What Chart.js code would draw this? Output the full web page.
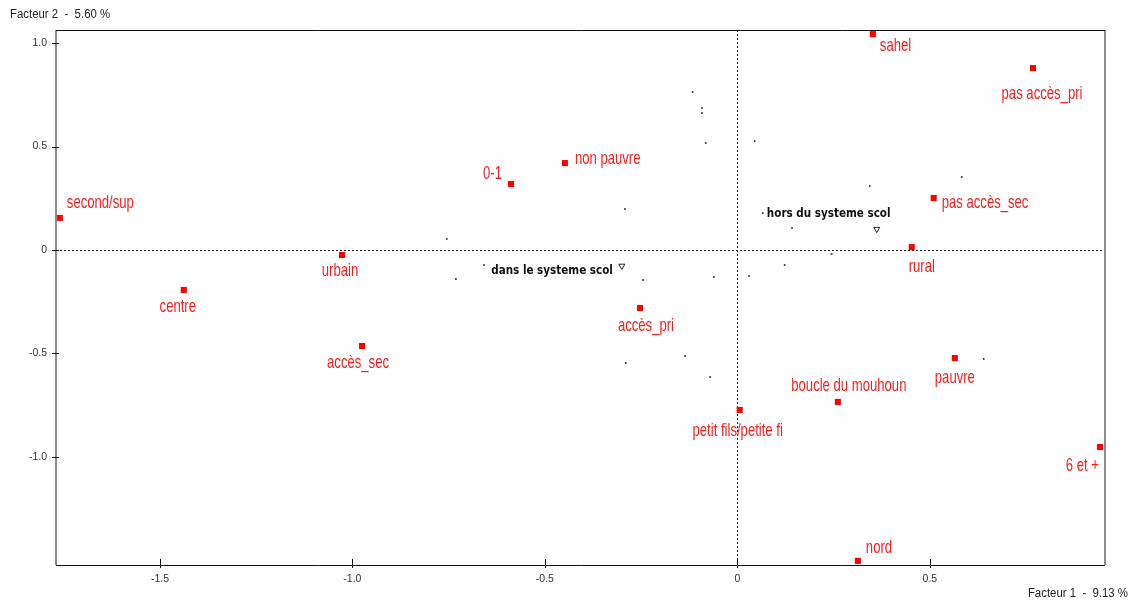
<!DOCTYPE html>
<html>
<head>
<meta charset="utf-8">
<script src="https://cdn.jsdelivr.net/npm/chart.js@4/dist/chart.umd.min.js"></script>
<style>
	html, body { margin: 0; padding: 0; background: #fff; }
	#wrap { width: 1132px; height: 602px; }
</style>
</head>
<body>
<div id="wrap"><canvas id="chart"></canvas></div>
<script>
// modalités actives (carrés rouges)
const modalites = ["sahel", "pas accès_pri", "non pauvre", "0-1", "second/sup", "pas accès_sec", "rural", "urbain", "centre", "accès_pri", "accès_sec", "pauvre", "boucle du mouhoun", "petit fils/petite fi", "6 et +", "nord"];
const modalitesF1 = [0.352, 0.768, -0.448, -0.588, -1.760, 0.510, 0.453, -1.027, -1.438, -0.253, -0.975, 0.565, 0.261, 0.006, 0.942, 0.313];
const modalitesF2 = [1.043, 0.879, 0.420, 0.319, 0.155, 0.251, 0.014, -0.024, -0.193, -0.280, -0.464, -0.522, -0.734, -0.773, -0.952, -1.502];

// variable illustrative (triangles)
const groupes = ["dans le systeme scol", "hors du systeme scol"];
const groupesF1 = [-0.300, 0.362];
const groupesF2 = [-0.077, 0.101];

// individus (petits points)
const individusF1 = [-0.116, -0.092, -0.092, -0.082, -0.292, -0.755, 0.045, 0.583, 0.344, 0.066, 0.142, -0.658, -0.731, -0.245, -0.061, -0.136, -0.290, -0.071, 0.245, 0.123, 0.030, 0.640];
const individusF2 = [0.763, 0.686, 0.662, 0.517, 0.198, 0.053, 0.527, 0.353, 0.309, 0.179, 0.106, -0.072, -0.140, -0.145, -0.130, -0.512, -0.546, -0.614, -0.019, -0.072, -0.126, -0.527];

const xTicks = [-1.5, -1.0, -0.5, 0, 0.5];
const yTicks = [1.0, 0.5, 0, -0.5, -1.0];
const titreX = "Facteur 1  -  9.13 %";
const titreY = "Facteur 2  -  5.60 %";

// placement des étiquettes : [alignement, dx, dy]
const placement = {
	"sahel": ["left", 7, 12],
	"pas accès_pri": ["center", 9, 26],
	"non pauvre": ["left", 10, -4],
	"0-1": ["right", -9, -10],
	"second/sup": ["left", 7, -15],
	"pas accès_sec": ["left", 8, 5],
	"rural": ["center", 10, 20],
	"urbain": ["center", -2, 16],
	"centre": ["center", -6, 17],
	"accès_pri": ["center", 6, 18],
	"accès_sec": ["center", -4, 17],
	"pauvre": ["center", 0, 20],
	"boucle du mouhoun": ["center", 11, -16],
	"petit fils/petite fi": ["center", -2, 21],
	"6 et +": ["right", -1, 19],
	"nord": ["left", 8, -13],
	"dans le systeme scol": ["right", -9, 5],
	"hors du systeme scol": ["center", -48, -15],
};

const toPoints = (xs, ys) => xs.map((x, i) => ({ x, y: ys[i] }));

const drawText = (ctx, text, x, y, align, font, color, sx) => {
	ctx.save();
	ctx.font = font;
	ctx.fillStyle = color;
	ctx.textBaseline = "middle";
	const w = ctx.measureText(text).width * sx;
	let left = x;
	if (align === "center") left = x - w / 2;
	if (align === "right") left = x - w;
	ctx.translate(left, y);
	ctx.scale(sx, 1);
	ctx.textAlign = "left";
	ctx.fillText(text, 0, 0);
	ctx.restore();
};

const cadrePlugin = {
	id: "cadre",
	beforeDatasetsDraw(chart) {
		const { ctx, chartArea: a, scales } = chart;
		const x0 = scales.x.getPixelForValue(0);
		const y0 = scales.y.getPixelForValue(0);
		ctx.save();
		ctx.strokeStyle = "#222";
		ctx.lineWidth = 1;
		ctx.setLineDash([2, 2]);
		ctx.beginPath();
		ctx.moveTo(Math.round(x0) + 0.5, a.top);
		ctx.lineTo(Math.round(x0) + 0.5, a.bottom);
		ctx.moveTo(a.left, Math.round(y0) + 0.5);
		ctx.lineTo(a.right, Math.round(y0) + 0.5);
		ctx.stroke();
		ctx.restore();
	},
	afterDraw(chart) {
		const { ctx, chartArea: a, scales } = chart;
		ctx.save();
		// bords gris (gauche, droite)
		ctx.strokeStyle = "#8c8c8c";
		ctx.lineWidth = 2;
		ctx.beginPath();
		ctx.moveTo(a.left, a.top);
		ctx.lineTo(a.left, a.bottom);
		ctx.moveTo(a.right, a.top);
		ctx.lineTo(a.right, a.bottom);
		ctx.stroke();
		// bords noirs (haut, bas)
		ctx.strokeStyle = "#111";
		ctx.lineWidth = 1;
		ctx.beginPath();
		ctx.moveTo(a.left, a.top + 0.5);
		ctx.lineTo(a.right, a.top + 0.5);
		ctx.moveTo(a.left, a.bottom + 0.5);
		ctx.lineTo(a.right, a.bottom + 0.5);
		// graduations
		scales.x.ticks.forEach((t) => {
			const px = Math.round(scales.x.getPixelForValue(t.value)) + 0.5;
			ctx.moveTo(px, a.bottom - 6);
			ctx.lineTo(px, a.bottom + 3);
		});
		scales.y.ticks.forEach((t) => {
			const py = Math.round(scales.y.getPixelForValue(t.value)) + 0.5;
			ctx.moveTo(a.left - 4, py);
			ctx.lineTo(a.left + 3, py);
		});
		ctx.stroke();
		ctx.restore();
		drawText(ctx, titreY, 10, 15, "left", "12px 'Liberation Sans', Arial", "#222", 0.95);
		drawText(ctx, titreX, 1128, 594, "right", "12px 'Liberation Sans', Arial", "#222", 0.95);
	},
	afterDatasetsDraw(chart) {
		const { ctx } = chart;
		chart.data.datasets.forEach((ds, i) => {
			if (!ds.noms) return;
			const meta = chart.getDatasetMeta(i);
			meta.data.forEach((pt, j) => {
				const nom = ds.noms[j];
				const [align, dx, dy] = placement[nom] || ["left", 6, 0];
				drawText(ctx, nom, pt.x + dx, pt.y + dy, align, ds.labelFont, ds.labelColor, ds.labelScale);
			});
		});
	},
};

const fmt = (v) => (v === 0 ? "0" : v.toFixed(1));

new Chart(document.getElementById("chart"), {
	type: "scatter",
	data: {
		datasets: [
			{
				label: "individus",
				data: toPoints(individusF1, individusF2),
				pointRadius: 1,
				pointBorderWidth: 0,
				backgroundColor: "#333",
			},
			{
				label: "modalites",
				data: toPoints(modalitesF1, modalitesF2),
				noms: modalites,
				labelFont: "19px 'Liberation Sans', Arial",
				labelColor: "#ff1a1a",
				labelScale: 0.69,
				pointStyle: "rect",
				pointRadius: 4.3,
				pointBorderWidth: 0,
				backgroundColor: "#ff0000",
			},
			{
				label: "systeme scol",
				data: toPoints(groupesF1, groupesF2),
				noms: groupes,
				labelFont: "bold 13px 'DejaVu Sans'",
				labelColor: "#111",
				labelScale: 0.8,
				pointStyle: "triangle",
				rotation: 180,
				pointRadius: 3.5,
				pointBorderWidth: 1,
				borderColor: "#222",
				backgroundColor: "#fff",
			},
		],
	},
	options: {
		responsive: true,
		maintainAspectRatio: false,
		animation: false,
		layout: {
			padding: { left: 0, right: 27, top: 30, bottom: 0 },
		},
		plugins: {
			legend: { display: false },
			tooltip: { enabled: false },
		},
		scales: {
			x: {
				type: "linear",
				min: -1.77,
				max: 0.955,
				afterBuildTicks: (scale) => {
					scale.ticks = xTicks.map((v) => ({ value: v }));
				},
				afterFit: (scale) => {
					scale.height = 37;
				},
				grid: { display: false, drawTicks: false },
				border: { display: false },
				ticks: {
					padding: 8,
					color: "#333",
					font: { family: "'Liberation Sans', Arial", size: 10.5 },
					callback: fmt,
				},
			},
			y: {
				type: "linear",
				min: -1.522,
				max: 1.063,
				afterBuildTicks: (scale) => {
					scale.ticks = yTicks.map((v) => ({ value: v }));
				},
				afterFit: (scale) => {
					scale.width = 56;
				},
				grid: { display: false, drawTicks: false },
				border: { display: false },
				ticks: {
					padding: 9,
					color: "#333",
					font: { family: "'Liberation Sans', Arial", size: 10.5 },
					callback: fmt,
				},
			},
		},
	},
	plugins: [cadrePlugin],
});
</script>
</body>
</html>
